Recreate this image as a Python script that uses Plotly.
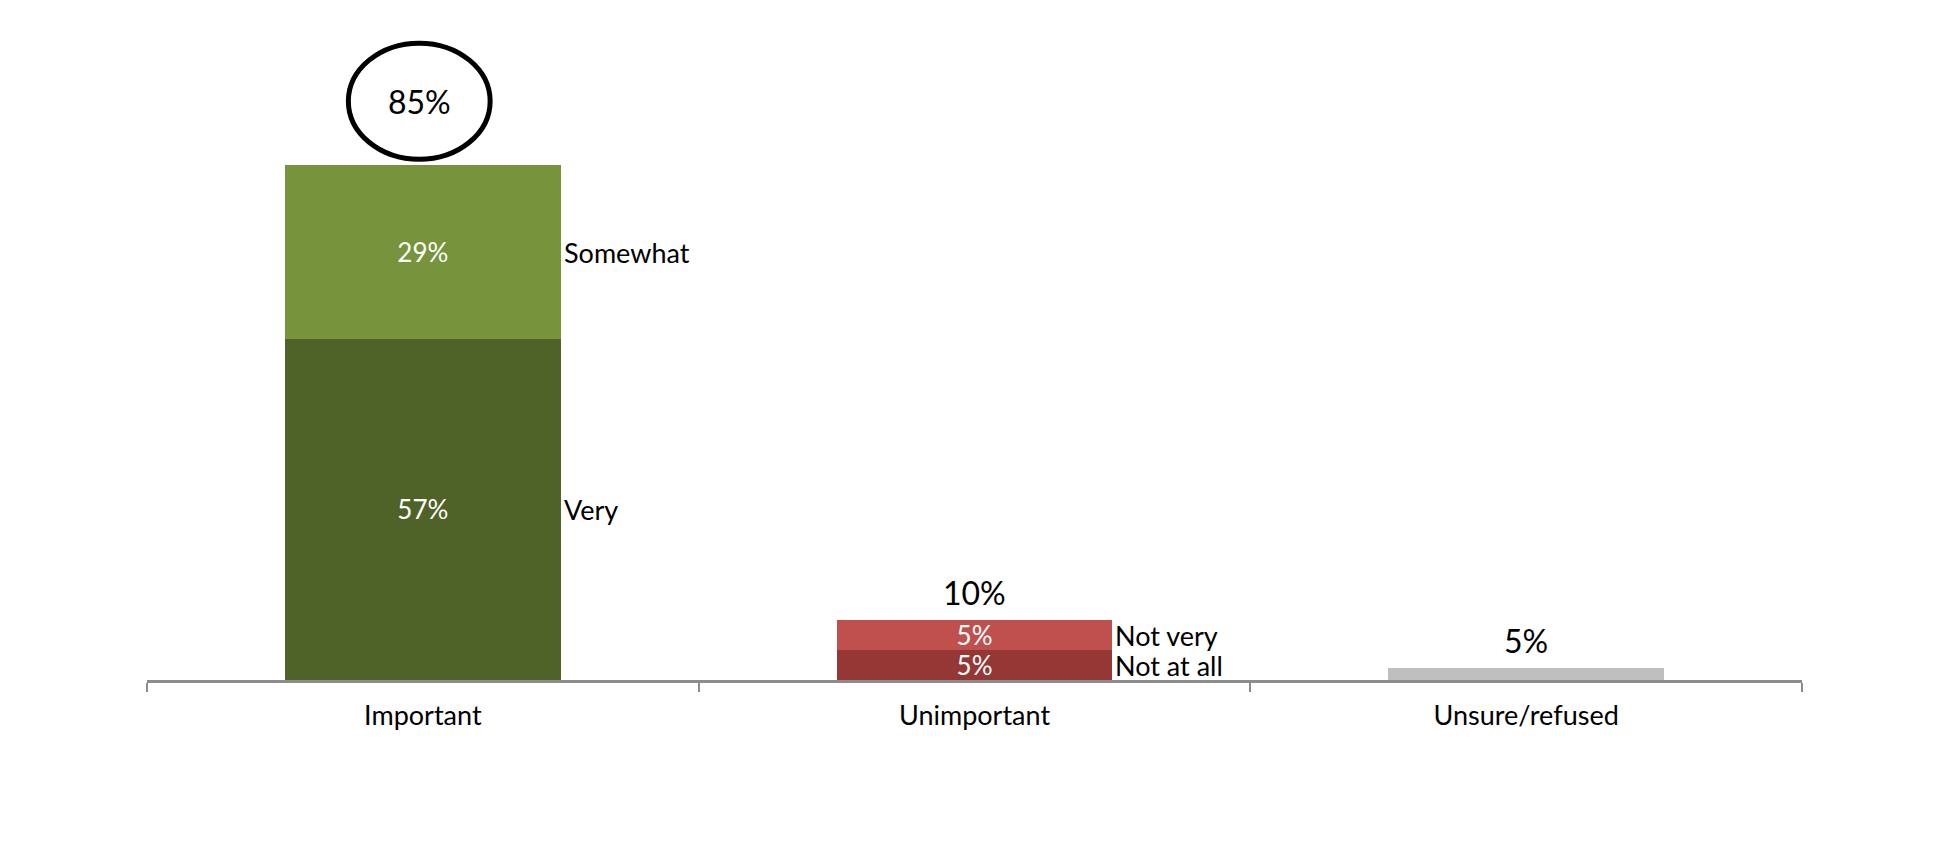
import plotly.graph_objects as go

categories = ["Important", "Unimportant", "Unsure/refused"]

# stacked segments (bottom, top)
bottom_values = [57, 5, 2]
top_values = [29, 5, 0]
bottom_labels = ["57%", "5%", ""]
top_labels = ["29%", "5%", ""]
bottom_colors = ["#4F6228", "#953735", "#BFBFBF"]
top_colors = ["#77933C", "#C0504D", "#BFBFBF"]
bottom_names = ["Very", "Not at all", ""]
top_names = ["Somewhat", "Not very", ""]
total_labels = ["85%", "10%", "5%"]

FONT = "Lato"
AXIS_GRAY = "#8C8C8C"

fig = go.Figure()
fig.add_trace(go.Bar(
    x=categories, y=bottom_values, marker=dict(color=bottom_colors, line=dict(width=0)),
    text=bottom_labels, textposition="inside", insidetextanchor="middle",
    textfont=dict(color="white", size=26, family=FONT), constraintext="none",
    hoverinfo="skip", showlegend=False,
))
fig.add_trace(go.Bar(
    x=categories, y=top_values, marker=dict(color=top_colors, line=dict(width=0)),
    text=top_labels, textposition="inside", insidetextanchor="middle",
    textfont=dict(color="white", size=26, family=FONT), constraintext="none",
    hoverinfo="skip", showlegend=False,
))

annotations = []
for i, cat in enumerate(categories):
    b = bottom_values[i]
    t = top_values[i]
    if bottom_names[i]:
        annotations.append(dict(x=i + 0.25, y=b / 2, xref="x", yref="y", text=bottom_names[i],
                                showarrow=False, xanchor="left", yanchor="middle",
                                font=dict(size=27, color="black", family=FONT), xshift=1))
    if top_names[i]:
        annotations.append(dict(x=i + 0.25, y=b + t / 2, xref="x", yref="y", text=top_names[i],
                                showarrow=False, xanchor="left", yanchor="middle",
                                font=dict(size=27, color="black", family=FONT), xshift=1))

# total labels
total = [bottom_values[i] + top_values[i] for i in range(3)]
circle_cy = total[0] + 10.7
annotations.append(dict(x=0, y=circle_cy, xref="x", yref="y", text=total_labels[0],
                        showarrow=False, xanchor="center", yanchor="middle", xshift=-3,
                        font=dict(size=32, color="black", family=FONT)))
for i in (1, 2):
    annotations.append(dict(x=i, y=total[i], xref="x", yref="y", text=total_labels[i],
                            showarrow=False, xanchor="center", yanchor="bottom", yshift=6,
                            font=dict(size=32, color="black", family=FONT)))

shapes = [dict(type="circle", xref="x", yref="y",
               x0=-0.135, x1=0.122, y0=circle_cy - 9.7, y1=circle_cy + 9.7,
               line=dict(color="black", width=5), fillcolor="rgba(0,0,0,0)")]

fig.update_layout(
    width=1950, height=844,
    margin=dict(l=139, r=156, t=10, b=172),
    paper_bgcolor="white", plot_bgcolor="white",
    barmode="stack", bargap=0.5,
    annotations=annotations, shapes=shapes,
    font=dict(family=FONT, color="black"),
    xaxis=dict(showgrid=False, zeroline=False, showline=True, linecolor=AXIS_GRAY, linewidth=3,
               ticks="outside", tickson="boundaries", ticklen=9, tickwidth=2, tickcolor=AXIS_GRAY,
               tickfont=dict(size=27, family=FONT, color="black"), ticklabelstandoff=10),
    yaxis=dict(range=[0, 110.6], visible=False, showgrid=False, zeroline=False),
)

fig.write_html("out.html")
